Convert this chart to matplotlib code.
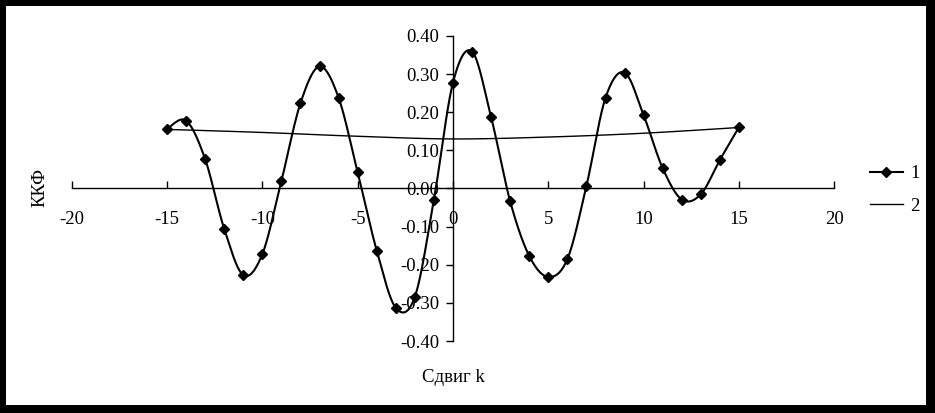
import numpy as np
import matplotlib
matplotlib.use('Agg')
import matplotlib.pyplot as plt
from matplotlib.patches import Rectangle
from matplotlib.lines import Line2D

plt.rcParams['font.family'] = ['Liberation Serif', 'DejaVu Serif']

# ККФ, ряд 1 (сдвиг k = -15..15)
k1 = np.arange(-15, 16)
kkf1 = [0.156, 0.178, 0.077, -0.106, -0.227, -0.172, 0.020, 0.224, 0.320, 0.238,
        0.042, -0.163, -0.313, -0.284, -0.029, 0.278, 0.359, 0.187, -0.034, -0.177,
        -0.232, -0.185, 0.007, 0.238, 0.304, 0.192, 0.053, -0.029, -0.015, 0.075,
        0.161]

# ряд 2
k2 = [-15, -10, -5, 0, 5, 10, 15]
kkf2 = [0.155, 0.147, 0.137, 0.130, 0.135, 0.145, 0.160]

xticks = [-20, -15, -10, -5, 0, 5, 10, 15, 20]
yticks = [-0.4, -0.3, -0.2, -0.1, 0.0, 0.1, 0.2, 0.3, 0.4]


def smooth(x, y, n=20):
    # сглаживание как в Excel (кривые Безье через точки)
    x = np.asarray(x, float)
    y = np.asarray(y, float)
    px = np.concatenate([[x[0]], x, [x[-1]]])
    py = np.concatenate([[y[0]], y, [y[-1]]])
    t = np.linspace(0, 1, n)[:, None]
    xs, ys = [], []
    for i in range(1, len(px) - 2):
        p0 = np.array([px[i], py[i]])
        p3 = np.array([px[i + 1], py[i + 1]])
        p1 = p0 + (np.array([px[i + 1], py[i + 1]]) - np.array([px[i - 1], py[i - 1]])) / 6
        p2 = p3 - (np.array([px[i + 2], py[i + 2]]) - np.array([px[i], py[i]])) / 6
        b = ((1 - t) ** 3) * p0 + 3 * ((1 - t) ** 2) * t * p1 + 3 * (1 - t) * t ** 2 * p2 + t ** 3 * p3
        xs.extend(b[:, 0])
        ys.extend(b[:, 1])
    return np.array(xs), np.array(ys)


fs = 13.5

fig = plt.figure(figsize=(9.35, 4.13), dpi=100)
fig.patch.set_facecolor('black')
fig.patches.append(Rectangle((6 / 935, 8 / 413), 920 / 935, 399 / 413,
                             transform=fig.transFigure, facecolor='white',
                             edgecolor='none', zorder=-1))

ax = fig.add_axes([71.7 / 935, 1 - 341 / 413, 762.6 / 935, 305 / 413])
ax.set_facecolor('none')

sx, sy = smooth(k1, kkf1)
ax.plot(sx, sy, color='black', lw=1.5, zorder=3)
ax.plot(k1, kkf1, linestyle='none', marker='D', markersize=5.5, color='black', zorder=4)

sx2, sy2 = smooth(k2, kkf2)
ax.plot(sx2, sy2, color='black', lw=1.0, zorder=2)

ax.set_xlim(-20, 20)
ax.set_ylim(-0.4, 0.4)
ax.spines['left'].set_position(('data', 0))
ax.spines['bottom'].set_position(('data', 0))
ax.spines['top'].set_visible(False)
ax.spines['right'].set_visible(False)
for s in ('left', 'bottom'):
    ax.spines[s].set_linewidth(1.0)

ax.set_xticks(xticks)
ax.set_xticklabels([str(v) for v in xticks])
ax.set_yticks(yticks)
ax.set_yticklabels(['%.2f' % v for v in yticks])
ax.tick_params(axis='x', direction='in', length=5, width=1, pad=16.5, labelsize=fs)
ax.tick_params(axis='y', direction='out', length=5, width=1, pad=5, labelsize=fs)

fig.text(40 / 935, 1 - 187 / 413, 'ККФ', rotation=90, ha='center', va='center', fontsize=fs)
fig.text(453 / 935, 1 - 378 / 413, 'Сдвиг k', ha='center', va='center', fontsize=fs)

h1 = Line2D([], [], color='black', lw=1.5, marker='D', markersize=5.5)
h2 = Line2D([], [], color='black', lw=1.0)
fig.legend([h1, h2], ['1', '2'], loc='center left', bbox_to_anchor=(870 / 935, 1 - 190 / 413),
           frameon=False, fontsize=fs, handlelength=1.75, handletextpad=0.4,
           labelspacing=0.8, borderpad=0, borderaxespad=0)

fig.savefig('out.png', dpi=100, facecolor=fig.get_facecolor())
